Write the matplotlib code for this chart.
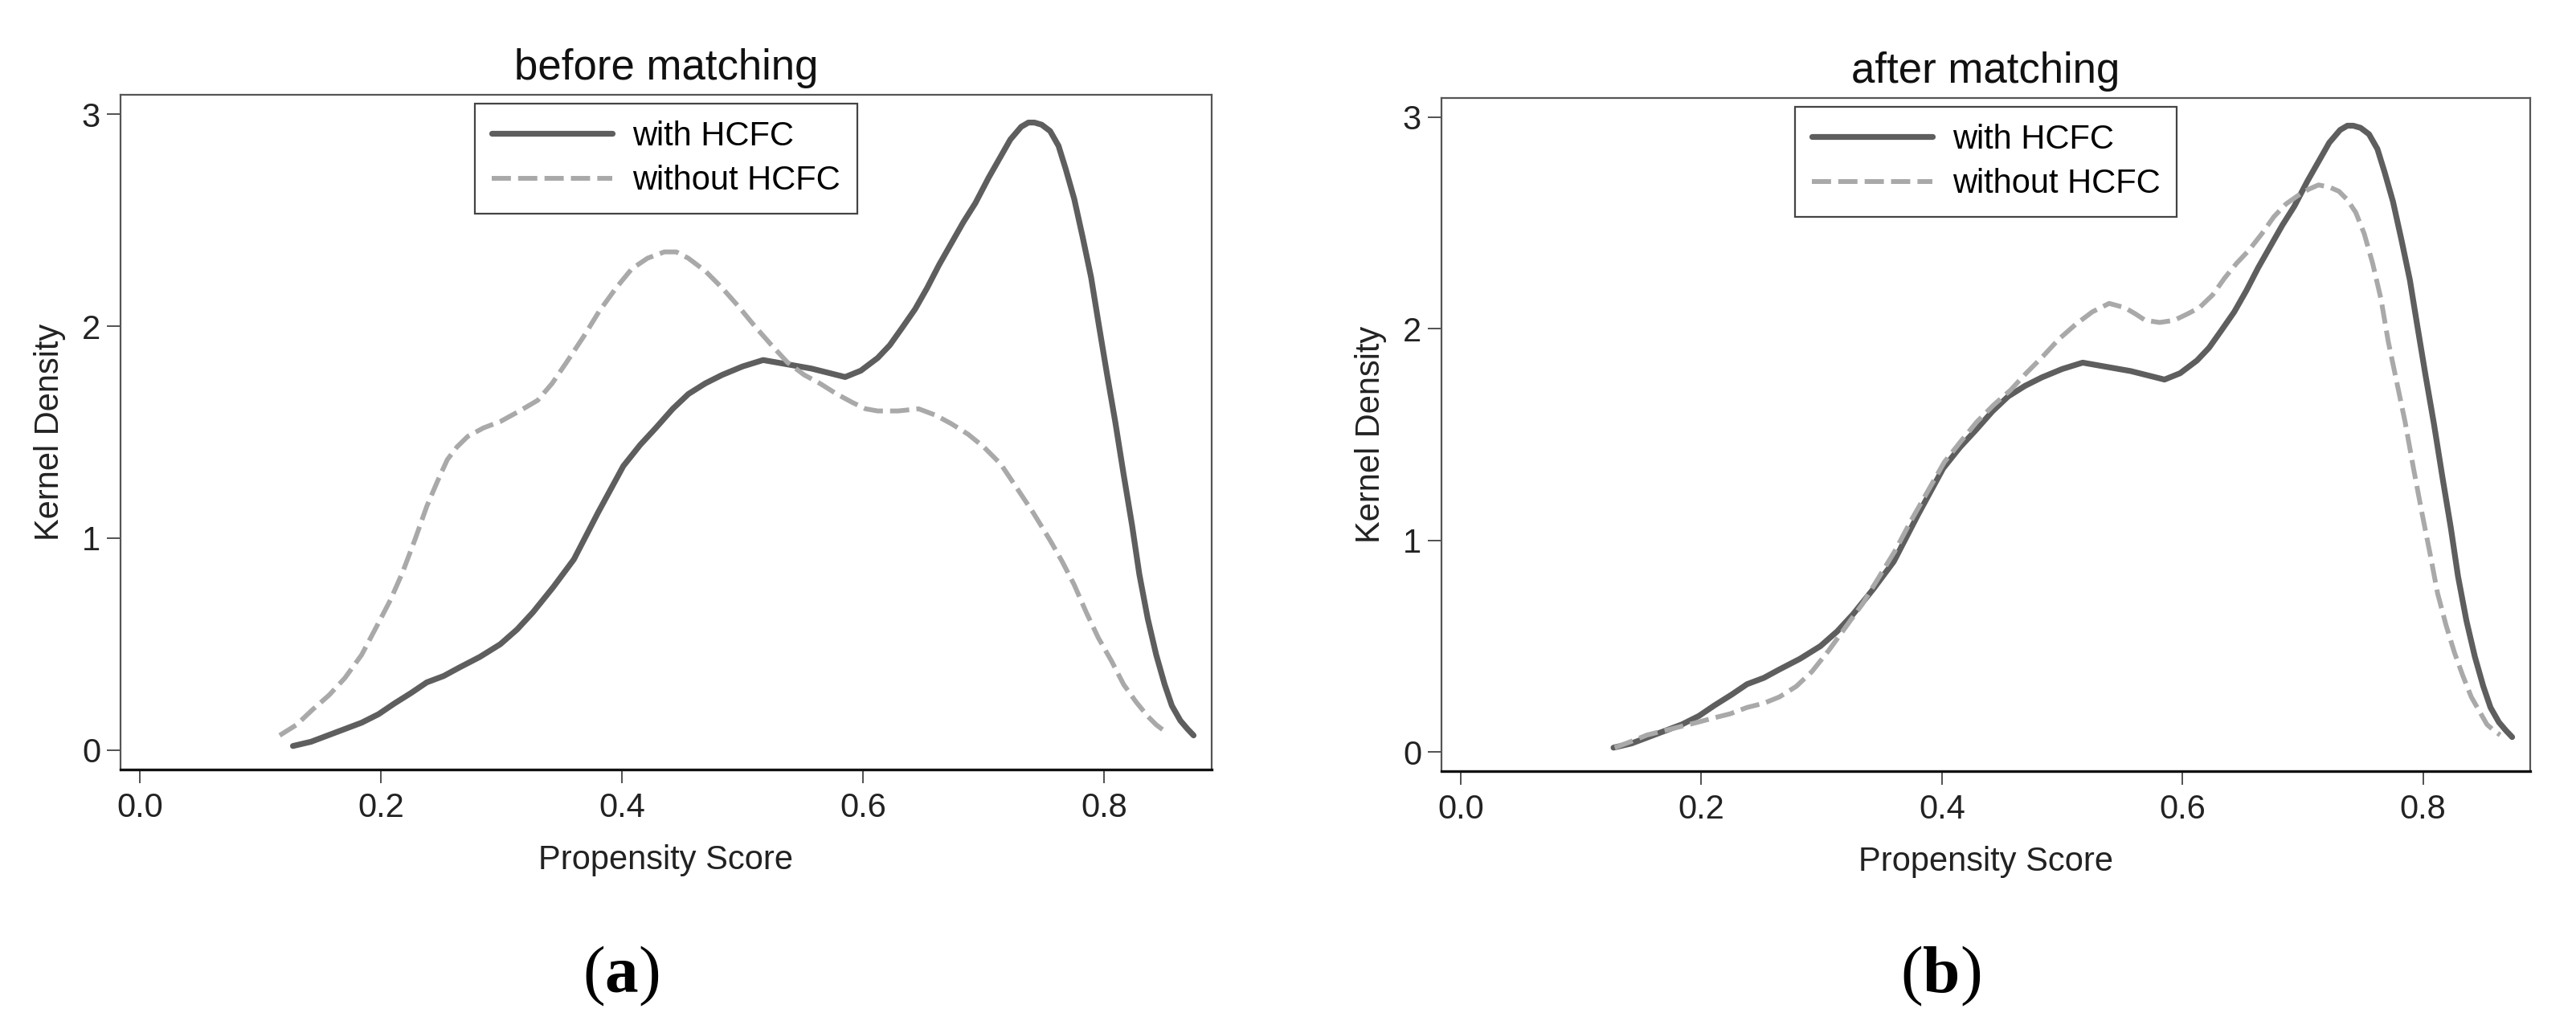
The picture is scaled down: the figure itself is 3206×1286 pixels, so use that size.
import matplotlib

matplotlib.use("Agg")
import matplotlib.pyplot as plt

plt.rcParams["font.family"] = ["Liberation Sans", "DejaVu Sans"]
plt.rcParams["mathtext.fontset"] = "custom"
plt.rcParams["mathtext.bf"] = "Liberation Serif:bold"
plt.rcParams["mathtext.rm"] = "Liberation Serif"

# propensity-score densities
with_x = [0.127, 0.142, 0.156, 0.170, 0.184, 0.198, 0.211, 0.225, 0.238, 0.252,
          0.265, 0.282, 0.299, 0.313, 0.326, 0.343, 0.360, 0.380, 0.401, 0.415,
          0.428, 0.442, 0.455, 0.469, 0.483, 0.500, 0.517, 0.537, 0.557, 0.571,
          0.585, 0.598, 0.612, 0.622, 0.632, 0.643, 0.653, 0.663, 0.673, 0.683,
          0.693, 0.704, 0.714, 0.722, 0.731, 0.737, 0.742, 0.748, 0.755, 0.762,
          0.768, 0.775, 0.782, 0.789, 0.795, 0.802, 0.809, 0.816, 0.823, 0.829,
          0.836, 0.843, 0.850, 0.856, 0.863, 0.869, 0.874]
with_y = [0.02, 0.04, 0.07, 0.10, 0.13, 0.17, 0.22, 0.27, 0.32, 0.35,
          0.39, 0.44, 0.50, 0.57, 0.65, 0.77, 0.90, 1.12, 1.34, 1.44,
          1.52, 1.61, 1.68, 1.73, 1.77, 1.81, 1.84, 1.82, 1.80, 1.78,
          1.76, 1.79, 1.85, 1.91, 1.99, 2.08, 2.18, 2.29, 2.39, 2.49,
          2.58, 2.70, 2.80, 2.88, 2.94, 2.96, 2.96, 2.95, 2.92, 2.85,
          2.74, 2.60, 2.42, 2.23, 2.02, 1.78, 1.55, 1.30, 1.06, 0.83,
          0.62, 0.45, 0.31, 0.21, 0.14, 0.10, 0.07]

before_x = [0.116, 0.130, 0.143, 0.157, 0.170, 0.184, 0.197, 0.208, 0.218, 0.228,
            0.238, 0.247, 0.255, 0.263, 0.272, 0.285, 0.299, 0.315, 0.330, 0.342,
            0.354, 0.368, 0.381, 0.395, 0.408, 0.421, 0.435, 0.445, 0.455, 0.469,
            0.483, 0.497, 0.510, 0.524, 0.537, 0.551, 0.564, 0.578, 0.591, 0.602,
            0.612, 0.629, 0.646, 0.660, 0.673, 0.687, 0.700, 0.714, 0.727, 0.741,
            0.755, 0.765, 0.775, 0.785, 0.795, 0.806, 0.816, 0.826, 0.836, 0.843,
            0.850]
before_y = [0.07, 0.12, 0.19, 0.26, 0.34, 0.45, 0.59, 0.71, 0.84, 0.99,
            1.15, 1.27, 1.37, 1.43, 1.48, 1.52, 1.55, 1.60, 1.65, 1.73,
            1.83, 1.95, 2.07, 2.18, 2.27, 2.32, 2.35, 2.35, 2.32, 2.26,
            2.18, 2.09, 2.00, 1.91, 1.83, 1.77, 1.73, 1.68, 1.64, 1.61,
            1.60, 1.60, 1.61, 1.58, 1.54, 1.49, 1.43, 1.35, 1.24, 1.12,
            0.99, 0.89, 0.78, 0.65, 0.53, 0.42, 0.31, 0.23, 0.16, 0.12,
            0.09]

after_x = [0.128, 0.142, 0.155, 0.169, 0.183, 0.197, 0.210, 0.224, 0.238, 0.252,
           0.265, 0.279, 0.292, 0.306, 0.320, 0.334, 0.347, 0.361, 0.374, 0.388,
           0.402, 0.416, 0.429, 0.443, 0.457, 0.470, 0.484, 0.497, 0.511, 0.525,
           0.539, 0.552, 0.561, 0.569, 0.581, 0.593, 0.604, 0.614, 0.625, 0.635,
           0.645, 0.655, 0.666, 0.676, 0.686, 0.696, 0.705, 0.713, 0.722, 0.730,
           0.737, 0.744, 0.751, 0.758, 0.765, 0.771, 0.778, 0.785, 0.792, 0.799,
           0.806, 0.812, 0.819, 0.826, 0.833, 0.840, 0.847, 0.853, 0.859, 0.864]
after_y = [0.02, 0.05, 0.08, 0.10, 0.12, 0.14, 0.16, 0.18, 0.21, 0.23,
           0.26, 0.31, 0.38, 0.48, 0.59, 0.70, 0.82, 0.95, 1.09, 1.23,
           1.37, 1.47, 1.56, 1.64, 1.71, 1.79, 1.87, 1.95, 2.02, 2.08,
           2.12, 2.10, 2.07, 2.04, 2.03, 2.04, 2.07, 2.10, 2.16, 2.24,
           2.31, 2.37, 2.45, 2.53, 2.59, 2.63, 2.66, 2.68, 2.67, 2.65,
           2.61, 2.55, 2.45, 2.31, 2.14, 1.94, 1.75, 1.56, 1.34, 1.13,
           0.93, 0.75, 0.60, 0.47, 0.36, 0.26, 0.19, 0.13, 0.10, 0.08]

titles = ["before matching", "after matching"]
panel_tags = ["a", "b"]
labels = ["with HCFC", "without HCFC"]
x_ticks = [0.0, 0.2, 0.4, 0.6, 0.8]
y_ticks = [0, 1, 2, 3]

W, H = 3206, 1286
fig = plt.figure(figsize=(W / 100, H / 100), dpi=100)

# axes boxes in pixels: left, top, right, bottom
boxes = [(150, 118, 1508, 958), (1794, 122, 3149, 960)]
others = [(before_x, before_y), (after_x, after_y)]

for i, (l, t, r, b) in enumerate(boxes):
    ax = fig.add_axes([l / W, 1 - b / H, (r - l) / W, (b - t) / H])
    ax.plot(with_x, with_y, color="#5e5e5e", lw=5.2, solid_capstyle="round",
            solid_joinstyle="round", label=labels[0])
    ox, oy = others[i]
    ax.plot(ox, oy, color="#a9a9a9", lw=4.3, dashes=(4, 1.5),
            dash_capstyle="butt", dash_joinstyle="round", label=labels[1])

    ax.set_xlim(-0.016, 0.889)
    ax.set_ylim(-0.091, 3.091)
    ax.set_xticks(x_ticks)
    ax.set_xticklabels([f"{v:.1f}" for v in x_ticks])
    ax.set_yticks(y_ticks)
    ax.set_yticklabels([str(v) for v in y_ticks])
    ax.tick_params(axis="both", labelsize=30, length=12, width=1.2,
                   color="#333333", labelcolor="#222222")
    ax.tick_params(axis="x", pad=8)
    ax.tick_params(axis="y", pad=6)

    for side in ["left", "top", "right"]:
        ax.spines[side].set_color("#555555")
        ax.spines[side].set_linewidth(1.6)
    ax.spines["bottom"].set_color("#111111")
    ax.spines["bottom"].set_linewidth(2.4)

    ax.set_title(titles[i], fontsize=38, pad=14, color="#111111")
    ax.set_xlabel("Propensity Score", fontsize=30, labelpad=18, color="#222222")
    ax.set_ylabel("Kernel Density", fontsize=30, labelpad=14, color="#222222")

    leg = ax.legend(loc="upper center", bbox_to_anchor=(0.5, 0.987),
                    fontsize=30, handlelength=3.6, handletextpad=0.6,
                    labelspacing=0.37, borderpad=0.5, borderaxespad=0,
                    fancybox=False, framealpha=1, edgecolor="#444444")
    leg.get_frame().set_linewidth(1.6)

    cx = (l + r) / 2 - 56
    fig.text(cx / W, 1 - 1235 / H, r"($\mathbf{%s}$)" % panel_tags[i],
             family="Liberation Serif", fontsize=60, ha="center",
             va="baseline", color="black")

fig.savefig("out.png", dpi=100, facecolor="white")
